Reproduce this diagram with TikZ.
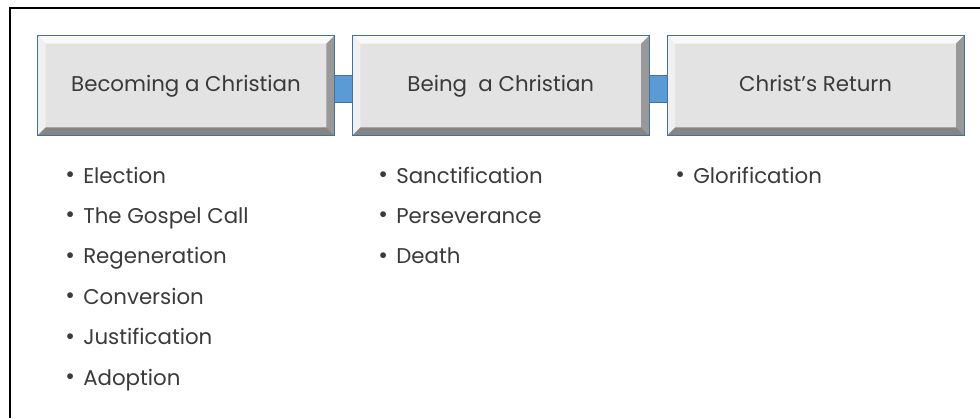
\documentclass[tikz,border=0pt]{standalone}
\usepackage{fontspec}
\setmainfont{Poppins}
\usetikzlibrary{positioning}
\definecolor{facegray}{HTML}{E3E3E3}
\definecolor{edgeblue}{HTML}{41719C}
\definecolor{linkblue}{HTML}{5B9BD5}
\definecolor{textgray}{HTML}{3A3A3A}
\tikzset{
	stage/.style={draw=edgeblue,line width=0.6pt,fill=facegray,minimum width=222pt,minimum height=74.25pt,inner sep=0pt,text height=0.95em,text depth=0.05em,font=\fontsize{16}{19}\selectfont,text=textgray},
	item/.style={anchor=base west,inner sep=0pt,font=\fontsize{16}{19}\selectfont,text=textgray},
	link/.style={draw=edgeblue,line width=0.6pt,fill=linkblue}
}
\newcommand{\bul}[1]{\makebox[13.5pt][l]{\raisebox{0.05ex}{\scalebox{1.1}{\textbullet}}}#1}
\begin{document}
\begin{tikzpicture}[x=0.75pt,y=-0.75pt,node distance=13.5pt]
		\useasboundingbox (0,0) rectangle (980,418);
		\draw[line width=1.5pt] (10,418) -- (10,8) -- (980,8);
		\node[stage] (become) at (186,85.5) {Becoming a Christian};
		\node[stage,right=of become] (being) {Being\ \ a Christian};
		\node[stage,right=of being] (return) {Christ’s Return};
		% bevel
		\foreach \b in {become,being,return}{
		  \fill[white!80!facegray] (\b.north west) -- (\b.north east) -- ([shift={(-8,8)}]\b.north east) -- ([shift={(8,8)}]\b.north west) -- cycle;
		  \fill[white!45!facegray] (\b.north west) -- ([shift={(8,8)}]\b.north west) -- ([shift={(8,-8)}]\b.south west) -- (\b.south west) -- cycle;
		  \fill[black!40] (\b.north east) -- ([shift={(-8,8)}]\b.north east) -- ([shift={(-8,-8)}]\b.south east) -- (\b.south east) -- cycle;
		  \fill[black!48] (\b.south west) -- ([shift={(8,-8)}]\b.south west) -- ([shift={(-8,-8)}]\b.south east) -- (\b.south east) -- cycle;
		  \draw[edgeblue,line width=0.6pt] (\b.north west) rectangle (\b.south east);
		}
		\draw[link] ([yshift=-13pt]become.east) rectangle ([yshift=7.5pt]being.west);
		\draw[link] ([yshift=-13pt]being.east) rectangle ([yshift=7.5pt]return.west);
		\foreach \t [count=\i] in {Election,The Gospel Call,Regeneration,Conversion,Justification,Adoption}
		  \node[item] (becomeItem\i) at (65,{183+40.4*(\i-1)}) {\bul{\t}};
		\foreach \t [count=\i] in {Sanctification,Perseverance,Death}
		  \node[item] (beingItem\i) at (378,{183+40.4*(\i-1)}) {\bul{\t}};
		\node[item] (returnItem1) at (675,183) {\bul{Glorification}};
\end{tikzpicture}
\end{document}
